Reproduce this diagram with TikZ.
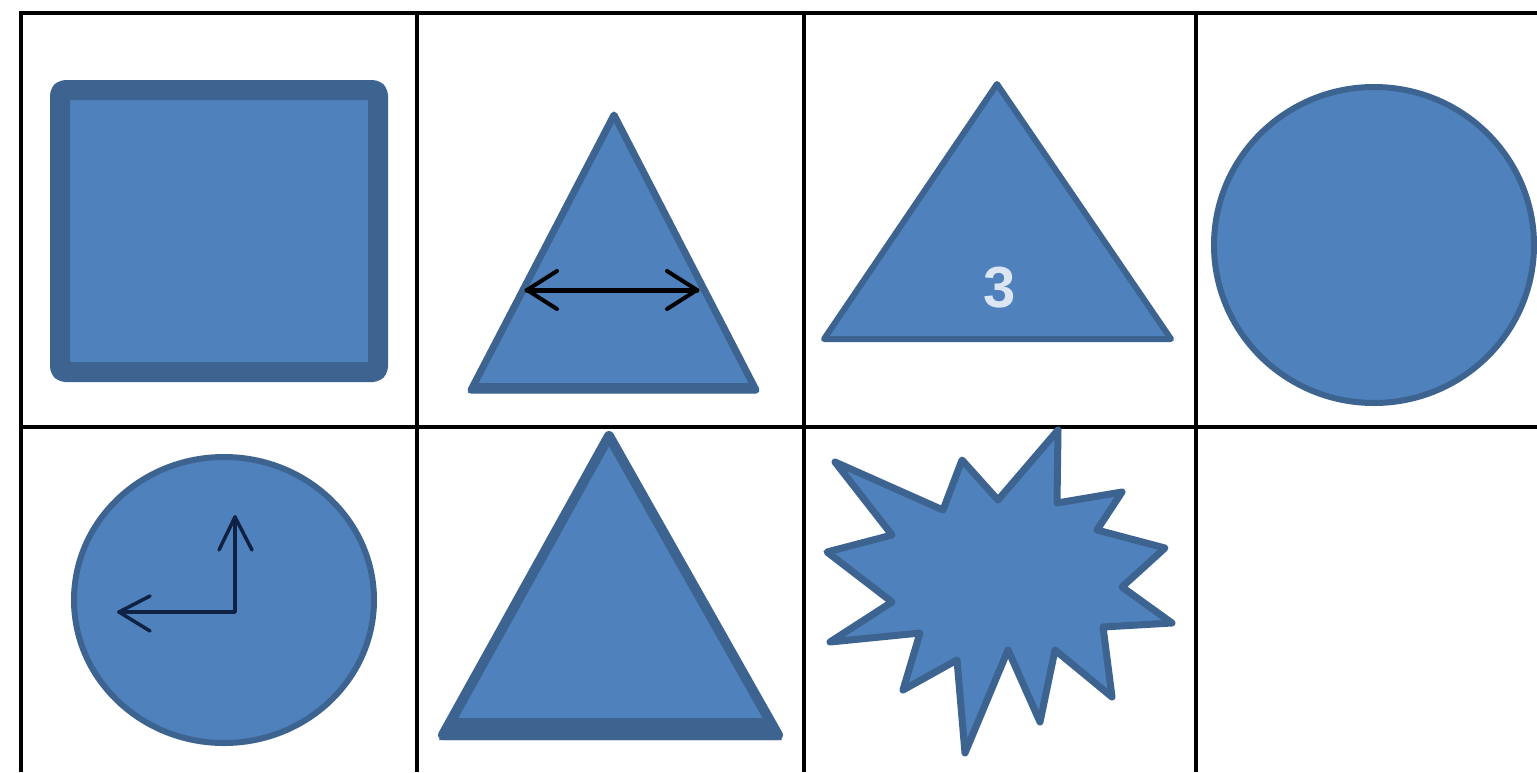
\documentclass[tikz,border=0pt]{standalone}
\usepackage{fontspec}
\newfontfamily\labelfont{Liberation Sans}
\definecolor{shapefill}{HTML}{4F81BD}
\definecolor{shapeline}{HTML}{3D6390}
\definecolor{handcol}{HTML}{0F2244}
\definecolor{txtcol}{HTML}{DCE6F2}
\begin{document}
\begin{tikzpicture}[x=1pt,y=-1pt,
  gridline/.style={black,line width=4pt},
  shp/.style={fill=shapefill,draw=shapeline,line width=#1,line join=round},
  shp/.default=6pt,
  hand/.style={handcol,line width=3.5pt,line cap=round,line join=round},
  dbl/.style={black,line width=5pt,line cap=round,line join=round}]
\useasboundingbox (0,0) rectangle (1537,772);
\fill[white] (0,0) rectangle (1537,772);
% grid
\draw[gridline] (21,13) -- (1537,13);
\draw[gridline] (21,427) -- (1537,427);
\draw[gridline] (21,11) -- (21,772);
\draw[gridline] (417,11) -- (417,772);
\draw[gridline] (804,11) -- (804,772);
\draw[gridline] (1196,11) -- (1196,772);
% square
\draw[shp=20pt,rounded corners=5pt] (60,90) rectangle (378,372);
% triangle with double arrow
\draw[shp=7pt] (614,115) -- (756,390) -- (471,390) -- cycle;
\fill[shapeline] (474,383) -- (752,383) -- (758,393) -- (468,393) -- cycle;
\coordinate (dl) at (527,290);
\coordinate (dr) at (697,290);
\draw[dbl] (dl) -- (dr);
\draw[dbl,line width=4pt] ([shift={(30,-19)}]dl) -- (dl) -- ([shift={(30,19)}]dl);
\draw[dbl,line width=4pt] ([shift={(-30,-19)}]dr) -- (dr) -- ([shift={(-30,19)}]dr);
% triangle with 3
\draw[shp=6pt] (997,84) -- (1171,339) -- (824,339) -- cycle;
\node[font=\labelfont\bfseries\fontsize{58}{58}\selectfont,text=txtcol,inner sep=0pt] (three) at (1000,288) {3};
% big circle
\draw[shp=6pt] (1374,245) ellipse [x radius=160, y radius=158];
% clock circle
\draw[shp=6pt] (224,600) ellipse [x radius=150, y radius=143];
\coordinate (hc) at (235,612);
\coordinate (ht) at (235,517);
\coordinate (hl) at (119,612);
\draw[hand] (ht) -- (hc) -- (hl);
\draw[hand] ([shift={(-16,33)}]ht) -- (ht) -- ([shift={(17,33)}]ht);
\draw[hand] ([shift={(31,-16)}]hl) -- (hl) -- ([shift={(31,19)}]hl);
% triangle row 2
\draw[shp=10pt] (609,436) -- (778,735) -- (443,735) -- cycle;
\fill[shapeline] (450,718) -- (769,718) -- (782,740) -- (439,740) -- cycle;
% star burst
\draw[shp=7pt] (835,462) -- (943,510) -- (962,460) -- (998,500) -- (1058,430)
  -- (1057,503) -- (1122,492) -- (1097,530) -- (1165,548) -- (1122,587)
  -- (1172,623) -- (1103,627) -- (1112,697) -- (1055,650) -- (1040,722)
  -- (1008,650) -- (965,753) -- (957,660) -- (903,690) -- (920,633)
  -- (830,642) -- (892,602) -- (827,552) -- (892,535) -- cycle;
\end{tikzpicture}
\end{document}
